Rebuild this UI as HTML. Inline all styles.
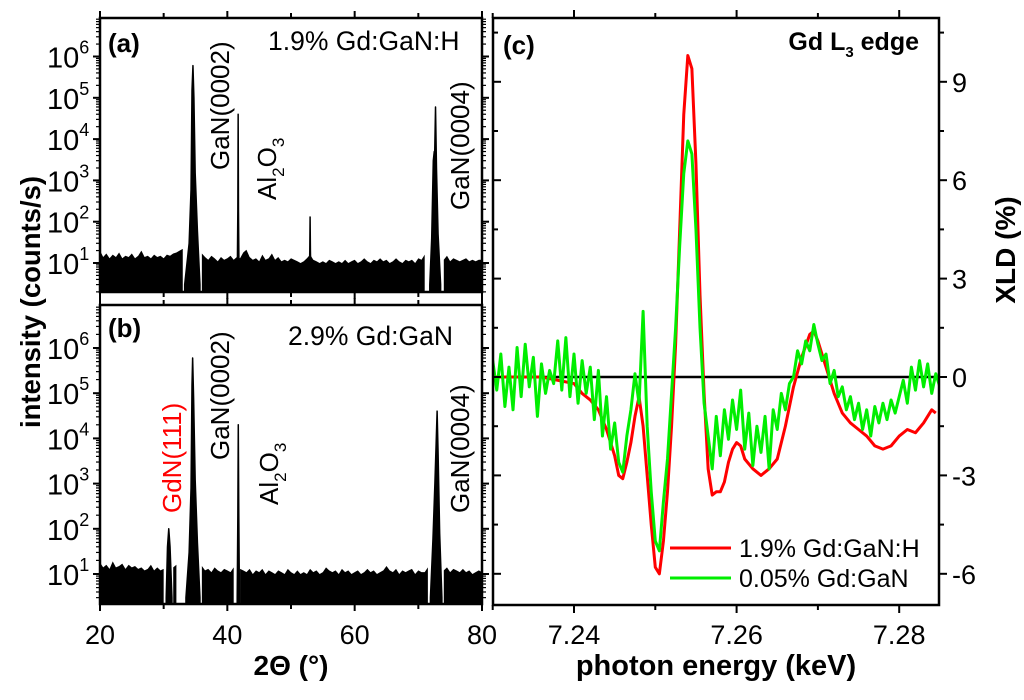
<!DOCTYPE html>
<html><head><meta charset="utf-8"><style>
html,body{margin:0;padding:0;background:#fff;}
svg{display:block;font-family:"Liberation Sans",Arial,sans-serif;}
</style></head><body>
<svg id="chart" width="1024" height="700" viewBox="0 0 1024 700" xmlns="http://www.w3.org/2000/svg">
<g id="gA"></g>
<g id="gB"></g>
<g id="gC"></g>
<g id="labels">
  <text x="108" y="52" font-size="26" font-weight="bold">(a)</text>
  <text x="268" y="50" font-size="26.5">1.9% Gd:GaN:H</text>
  <text transform="translate(229,170) rotate(-90)" font-size="26">GaN(0002)</text>
  <text transform="translate(276,200) rotate(-90)" font-size="26">Al<tspan font-size="17" dy="8">2</tspan><tspan dy="-8">O</tspan><tspan font-size="17" dy="8">3</tspan></text>
  <text transform="translate(469,210) rotate(-90)" font-size="26">GaN(0004)</text>
  <text x="108" y="337" font-size="26" font-weight="bold">(b)</text>
  <text x="288" y="345" font-size="26.5">2.9% Gd:GaN</text>
  <text transform="translate(181,513) rotate(-90)" font-size="26" fill="#ff0000">GdN(111)</text>
  <text transform="translate(229,460) rotate(-90)" font-size="26">GaN(0002)</text>
  <text transform="translate(278,505) rotate(-90)" font-size="26">Al<tspan font-size="17" dy="8">2</tspan><tspan dy="-8">O</tspan><tspan font-size="17" dy="8">3</tspan></text>
  <text transform="translate(469,513) rotate(-90)" font-size="26">GaN(0004)</text>
  <text x="503" y="54" font-size="26" font-weight="bold">(c)</text>
  <text x="919" y="50" font-size="25" font-weight="bold" text-anchor="end">Gd L<tspan font-size="15" dy="7">3</tspan><tspan dy="-7"> edge</tspan></text>
  <text x="291" y="675" font-size="28" font-weight="bold" text-anchor="middle">2Θ (°)</text>
  <text x="716" y="675" font-size="29" font-weight="bold" text-anchor="middle">photon energy (keV)</text>
  <text transform="translate(40,302) rotate(-90)" font-size="27.5" font-weight="bold" text-anchor="middle">intensity (counts/s)</text>
  <text transform="translate(1015,250) rotate(-90)" font-size="28" font-weight="bold" text-anchor="middle">XLD (%)</text>
</g>
<g id="legend">
  <line x1="670" y1="548" x2="731" y2="548" stroke="#ff0000" stroke-width="3"/>
  <text x="739" y="557" font-size="25">1.9% Gd:GaN:H</text>
  <line x1="670" y1="578" x2="731" y2="578" stroke="#00ee00" stroke-width="3"/>
  <text x="739" y="587" font-size="25">0.05% Gd:GaN</text>
</g>
</svg>
<script>
// ---------- XRD data ----------
const bgStart = 20, bgStep = 0.5;
const bgA = [20,14,17,13,16,14,18,13,15,14,17,13,15,20,14,15,13,16,14,15,13,16,15,17,18,20,22,null,null,null,null,null,17,14,12,15,13,11,14,12,13,15,12,14,13,18,21,14,12,13,11,16,12,13,17,12,14,11,12,11,13,12,11,10,11,13,16,12,11,10,11,10,12,11,10,11,10,12,10,11,12,10,11,13,11,10,12,11,13,11,12,10,11,13,11,10,12,11,12,10,13,12,16,null,null,null,null,null,12,15,11,13,12,11,12,13,11,12,11,12,12];
const bgB = [18,14,16,13,19,14,15,17,13,16,14,15,13,14,12,13,16,12,14,12,13,
  null,null,14,16,null,15,null,null,null,null,null,15,
  12,13,11,14,12,11,13,12,11,14,
  null,
  13,12,11,13,10,12,11,13,10,12,11,10,12,11,10,13,11,10,12,10,11,10,13,11,12,10,11,14,12,11,12,10,13,11,12,10,11,12,10,11,13,11,12,10,11,12,15,12,11,13,10,12,11,12,13,10,12,11,
  11,14,null,null,null,null,
  12,14,11,13,12,11,13,11,12,10,11,12,11];
const peakA_x = [[33.3,34.0,34.3,34.45,34.6,34.75,34.95,35.3,35.7],[41.55,41.65,41.7,41.75,41.85],[52.85,52.95,53.0,53.05,53.15],[71.8,72.1,72.35,72.5,72.55,72.7,72.85,73.1,73.5]];
const peakA_y = [[3,30,600,1.5e5,6e5,1e5,1500,60,3],[3,200,4e4,200,3],[3,20,130,20,3],[3,40,3000,5000,3000,6e4,2000,50,3]];
const peakB_x = [[30.4,30.6,30.8,31.0,31.3],[33.5,34.0,34.3,34.45,34.55,34.7,34.95,35.3,35.7],[41.55,41.65,41.72,41.8,41.9],[71.9,72.3,72.6,72.8,72.95,73.1,73.35,73.7]];
const peakB_y = [[3,40,100,40,3],[3,30,800,1.5e5,6e5,8e4,1200,50,3],[3,200,2e4,200,3],[3,60,1000,8000,4e4,5000,80,3]];
const xTicks = [20,40,60,80];
const decades = [1,2,3,4,5,6];

// ---------- XLD data ----------
const redX = [7.230,7.232,7.234,7.236,7.238,7.240,7.241,7.242,7.243,7.244,7.245,7.2455,7.246,7.2465,7.247,7.2475,7.248,7.2485,7.249,7.2495,7.250,7.2505,7.251,7.2515,7.252,7.2525,7.253,7.2535,7.254,7.2545,7.255,7.2555,7.256,7.2565,7.257,7.2575,7.258,7.2585,7.259,7.2595,7.260,7.2605,7.261,7.262,7.263,7.264,7.265,7.266,7.267,7.268,7.269,7.2695,7.270,7.271,7.272,7.273,7.274,7.275,7.276,7.277,7.278,7.279,7.280,7.281,7.282,7.283,7.284,7.2845];
const redY = [0,0,0,0,-0.1,-0.2,-0.5,-0.7,-1.0,-1.6,-2.4,-3.0,-3.1,-2.6,-2.0,-1.2,-0.6,-1.5,-3.0,-4.5,-5.8,-6.0,-5.0,-3.5,-1.5,1.0,4.5,8.0,9.8,9.4,6.5,2.5,-0.5,-2.8,-3.6,-3.5,-3.5,-3.2,-2.6,-2.2,-2.0,-2.1,-2.5,-2.8,-3.0,-2.8,-2.5,-1.5,-0.3,0.6,1.3,1.4,1.1,0.3,-0.5,-1.1,-1.4,-1.6,-1.8,-2.1,-2.2,-2.1,-1.8,-1.6,-1.7,-1.4,-1.0,-1.1];
const greenStart = 7.230, greenStep = 0.0005;
const greenY = [0.5,-0.4,0.7,-0.9,0.3,-1.0,0.9,-0.6,1.0,-0.3,0.6,-1.2,0.4,-0.5,0.2,-0.2,1.1,-0.4,1.2,-0.6,0.7,-0.8,0.5,-0.5,0.3,-1.3,0.2,-1.8,-0.6,-2.2,-1.4,-2.6,-2.9,-1.8,-1.0,0.1,-0.8,2.0,-1.5,-3.5,-5.0,-5.3,-3.8,-2.5,-0.5,1.5,4.0,6.2,7.2,6.8,4.5,1.5,-0.8,-1.8,-2.8,-1.2,-2.4,-1.0,-1.9,-0.7,-1.6,-0.4,-2.2,-1.1,-2.7,-1.5,-2.3,-1.2,-2.8,-1.0,-1.6,-0.5,-1.0,-0.2,0.0,0.8,0.4,1.1,0.8,1.6,1.0,0.5,0.7,-0.2,0.2,-0.6,-0.3,-1.0,-0.6,-1.3,-0.8,-1.6,-1.0,-1.8,-0.9,-1.4,-0.8,-1.3,-0.7,-1.1,-0.6,-0.1,-0.8,0.3,-0.4,0.5,-0.3,0.4,-0.5,0.1,-0.3];
const xldTicks = [7.24,7.26,7.28];
const xldTickLabels = ["7.24","7.26","7.28"];
const yldTicks = [-6,-3,0,3,6,9];

const NS = "http://www.w3.org/2000/svg";
function mk(tag, attrs, parent){const e=document.createElementNS(NS,tag);for(const k in attrs)e.setAttribute(k,attrs[k]);parent.appendChild(e);return e;}

// ---------- XRD panels ----------
function xrdPanel(g, top, bottom, y1, pxDec, bg, px, py, showXLabels, tag){
  const L=100, R=482;
  const sx = v => L + (v-20)*(R-L)/60;
  const sy = v => Math.min(bottom, Math.max(top, y1 - (Math.log10(v)-1)*pxDec));
  let seg=[];
  const flush=()=>{ if(seg.length>1){ let d="M"+seg[0][0]+","+bottom; seg.forEach(p=>d+=" L"+p[0]+","+p[1]); d+=" L"+seg[seg.length-1][0]+","+bottom+" Z";
      const p=mk("path",{d:d,fill:"#000"},g);
      
       } seg=[]; };
  bg.forEach((v,i)=>{ if(v===null){flush();} else seg.push([sx(bgStart+i*bgStep), sy(v)]); });
  flush();
  px.forEach((xs,k)=>{ let d="M"+sx(xs[0])+","+bottom; xs.forEach((x,j)=>d+=" L"+sx(x)+","+sy(py[k][j])); d+=" L"+sx(xs[xs.length-1])+","+bottom+" Z";
    const p=mk("path",{d:d,fill:"#000",stroke:"#000","stroke-width":1.5,"stroke-linejoin":"round"},g);
    
     });
  const f=mk("rect",{x:L,y:top,width:R-L,height:bottom-top,fill:"none",stroke:"#000","stroke-width":2.5},g);
  
  
  for(let v=20; v<=80; v+=10){ const len = (v%20===0)?7:5; const x=sx(v);
    mk("line",{x1:x,y1:bottom,x2:x,y2:bottom+len,stroke:"#000","stroke-width":2},g);
    mk("line",{x1:x,y1:top,x2:x,y2:top-len,stroke:"#000","stroke-width":2},g); }
  if(showXLabels){ xTicks.forEach(v=>{ const t=mk("text",{x:sx(v),y:644,"font-size":27,"text-anchor":"middle"},g); t.textContent=v;
    
     }); }
  for(let d=0; d<=7; d++){ for(let m=1;m<=9;m++){ const v=Math.pow(10,d)*m; const yy=y1-(Math.log10(v)-1)*pxDec; if(yy<top||yy>bottom) continue;
      const len = m===1?7:4;
      mk("line",{x1:L,y1:yy,x2:L-len,y2:yy,stroke:"#000","stroke-width":m===1?2:1.2},g);
      mk("line",{x1:R,y1:yy,x2:R+len,y2:yy,stroke:"#000","stroke-width":m===1?2:1.2},g); } }
  decades.forEach(d=>{ const yy=y1-(d-1)*pxDec;
    const t=mk("text",{x:47,y:yy+11,"font-size":29},g); t.textContent="10";
    
    
    const s=mk("tspan",{"font-size":18,dy:-14},t); s.textContent=d; });
}
xrdPanel(document.getElementById("gA"), 18, 292, 263, 41.3, bgA, peakA_x, peakA_y, false, "panel-a");
xrdPanel(document.getElementById("gB"), 305, 604, 574, 45.2, bgB, peakB_x, peakB_y, true, "panel-b");

// ---------- XLD panel ----------
(function(){
  const g=document.getElementById("gC");
  const L=493, R=939, T=18, B=605;
  const sx = v => 574 + (v-7.24)*8130;
  const sy = v => 377 - v*32.8;
  const cp=mk("clipPath",{id:"clipC"},g); mk("rect",{x:L,y:T,width:R-L,height:B-T},cp);
  const z=mk("line",{x1:L,y1:sy(0),x2:R,y2:sy(0),stroke:"#000","stroke-width":2.5},g);
  
  
  const red=mk("polyline",{points:redX.map((x,i)=>sx(x)+","+sy(redY[i])).join(" "),fill:"none",stroke:"#ff0000","stroke-width":3,"stroke-linejoin":"round","clip-path":"url(#clipC)"},g);
  
  
  const grn=mk("polyline",{points:greenY.map((y,i)=>sx(greenStart+i*greenStep)+","+sy(y)).join(" "),fill:"none",stroke:"#00ee00","stroke-width":3,"stroke-linejoin":"round","clip-path":"url(#clipC)"},g);
  
  
  const f=mk("rect",{x:L,y:T,width:R-L,height:B-T,fill:"none",stroke:"#000","stroke-width":2.5},g);
  
  
  for(let k=0;k<=5;k++){ const v=7.23+k*0.01; const x=sx(v); if(x<L-1||x>R+1) continue; const len=(k%2===1)?8:5;
    mk("line",{x1:x,y1:B,x2:x,y2:B+len,stroke:"#000","stroke-width":2},g);
    mk("line",{x1:x,y1:T,x2:x,y2:T-len,stroke:"#000","stroke-width":2},g); }
  xldTicks.forEach((v,i)=>{ const t=mk("text",{x:sx(v),y:644,"font-size":27,"text-anchor":"middle"},g); t.textContent=xldTickLabels[i];
    
     });
  for(let v=-6; v<=10.5; v+=1.5){ const y=sy(v); const major=(v%3===0); const len=major?8:5;
    mk("line",{x1:R,y1:y,x2:R+len,y2:y,stroke:"#000","stroke-width":2},g);
    mk("line",{x1:L,y1:y,x2:L+len,y2:y,stroke:"#000","stroke-width":2},g); }
  yldTicks.forEach(v=>{ const t=mk("text",{x:952,y:sy(v)+10,"font-size":27},g); t.textContent=v;
    
     });
})();
</script>
</body></html>
